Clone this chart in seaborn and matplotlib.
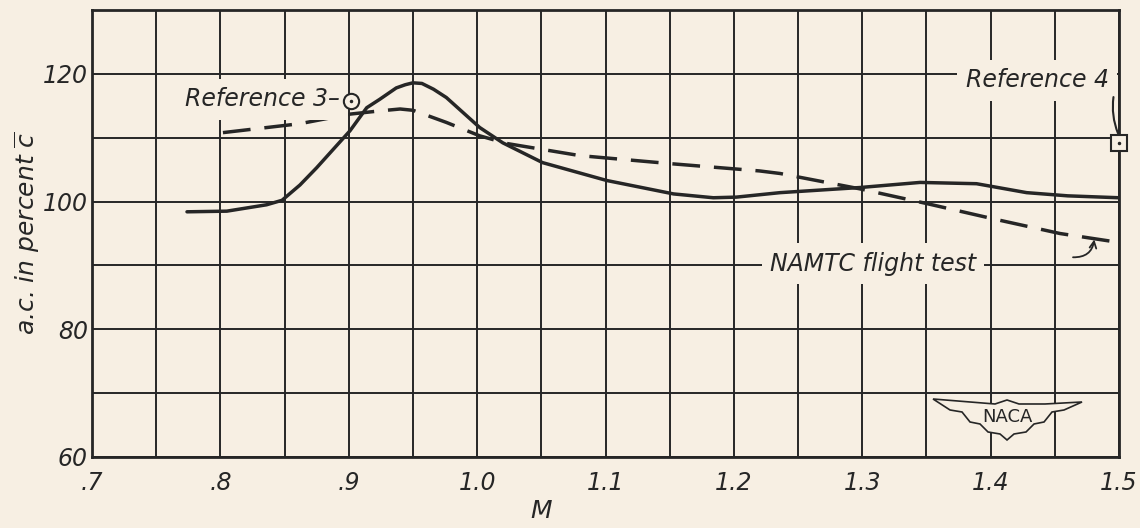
import matplotlib
matplotlib.use('Agg')
import matplotlib.pyplot as plt
import seaborn as sns
import numpy as np

# values (M vs a.c. in percent c-bar)
ref3_m = [0.774, 0.805, 0.836, 0.848, 0.862, 0.875, 0.901, 0.914, 0.924, 0.937,
          0.944, 0.950, 0.957, 0.966, 0.976, 1.002, 1.020, 1.051, 1.101, 1.153,
          1.184, 1.202, 1.236, 1.298, 1.345, 1.389, 1.428, 1.460, 1.500]
ref3_ac = [98.4, 98.5, 99.5, 100.2, 102.6, 105.3, 111.1, 114.7, 116.0, 117.8,
           118.3, 118.6, 118.5, 117.6, 116.3, 111.6, 109.2, 106.1, 103.3, 101.2,
           100.6, 100.7, 101.4, 102.2, 103.0, 102.8, 101.4, 100.9, 100.6]

flight_m = [0.802, 0.862, 0.901, 0.924, 0.940, 0.950, 0.976, 1.002, 1.023, 1.080,
            1.153, 1.220, 1.236, 1.298, 1.350, 1.402, 1.454, 1.500]
flight_ac = [110.8, 112.2, 113.7, 114.2, 114.5, 114.3, 112.4, 110.3, 109.1, 107.2,
             105.9, 104.8, 104.4, 102.0, 99.7, 97.3, 95.0, 93.6]

ref3_point = (0.902, 115.8)
ref4_point = (1.500, 109.1)

x_ticks = [0.7, 0.8, 0.9, 1.0, 1.1, 1.2, 1.3, 1.4, 1.5]
x_labels = ['.7', '.8', '.9', '1.0', '1.1', '1.2', '1.3', '1.4', '1.5']
y_ticks = [60, 80, 100, 120]
y_labels = ['60', '80', '100', '120']

paper = '#f7efe3'
ink = '#262626'

sns.set_theme(style='white')
plt.rcParams['font.family'] = ['DejaVu Sans']
plt.rcParams['mathtext.fontset'] = 'dejavusans'

fig = plt.figure(figsize=(11.4, 5.28), dpi=100, facecolor=paper)
ax = fig.add_axes([0.0807, 0.1345, 0.9009, 0.8465])
ax.set_facecolor(paper)

ax.set_xlim(0.7, 1.5)
ax.set_ylim(60, 130)
ax.set_xticks(np.arange(0.7, 1.5001, 0.05), minor=True)
ax.set_yticks(np.arange(60, 130.1, 10), minor=True)
ax.set_xticks(x_ticks)
ax.set_xticklabels(x_labels)
ax.set_yticks(y_ticks)
ax.set_yticklabels(y_labels)
ax.grid(True, which='both', color=ink, linewidth=1.4)
ax.set_axisbelow(True)
for s in ax.spines.values():
    s.set_color(ink)
    s.set_linewidth(2)
ax.tick_params(which='both', length=0, colors=ink, labelsize=17)
ax.tick_params(axis='x', pad=10)
ax.tick_params(axis='y', pad=3)
for lab in ax.get_xticklabels() + ax.get_yticklabels():
    lab.set_fontstyle('italic')

sns.lineplot(x=ref3_m, y=ref3_ac, ax=ax, color=ink, linewidth=2.5, zorder=3)
sns.lineplot(x=flight_m, y=flight_ac, ax=ax, color=ink, linewidth=2.5,
             linestyle=(0, (8, 4)), zorder=3)

ax.plot(*ref3_point, marker='o', markersize=11, markerfacecolor=paper,
        markeredgecolor=ink, markeredgewidth=1.5, zorder=5, clip_on=False)
ax.plot(*ref3_point, marker='.', markersize=3, color=ink, zorder=6, clip_on=False)
ax.plot(*ref4_point, marker='s', markersize=11, markerfacecolor=paper,
        markeredgecolor=ink, markeredgewidth=1.5, zorder=5, clip_on=False)
ax.plot(*ref4_point, marker='.', markersize=3, color=ink, zorder=6, clip_on=False)

box = dict(facecolor=paper, edgecolor='none', pad=6)
ax.text(0.893, 116.0, 'Reference 3\u2013', fontsize=17, fontstyle='italic',
        color=ink, ha='right', va='center', bbox=box, zorder=4)
ax.text(1.492, 119.0, 'Reference 4', fontsize=17, fontstyle='italic',
        color=ink, ha='right', va='center', bbox=box, zorder=4)
ax.annotate('', xy=(1.5, 110.3), xytext=(1.496, 116.8),
            arrowprops=dict(arrowstyle='-', color=ink, lw=1.5,
                            connectionstyle='arc3,rad=0.15'), zorder=5)
ax.text(1.228, 90.3, 'NAMTC flight test', fontsize=17, fontstyle='italic',
        color=ink, ha='left', va='center', bbox=box, zorder=4)
ax.annotate('', xy=(1.481, 94.5), xytext=(1.462, 91.3),
            arrowprops=dict(arrowstyle='->', color=ink, lw=1.3,
                            connectionstyle='arc3,rad=0.5'), zorder=5)

# NACA wing emblem
px = [933, 970, 995, 1007, 1019, 1045, 1082, 1064, 1052, 1044, 1034, 1026, 1014,
      1007, 1000, 988, 980, 970, 962, 950]
py = [399, 402, 404, 400, 404, 404, 402, 410, 412, 422, 424, 432, 434,
      440, 434, 432, 424, 422, 412, 410]
fx = [(p - 92) / 1027 for p in px]
fy = [(457 - p) / 447 for p in py]
ax.fill(fx, fy, transform=ax.transAxes, facecolor=paper, edgecolor=ink,
        linewidth=1.2, zorder=4)
ax.text((1007 - 92) / 1027, (457 - 417) / 447, 'NACA', transform=ax.transAxes,
        fontsize=13, color=ink, ha='center', va='center', zorder=5)

ax.set_xlabel('M', fontsize=18, fontstyle='italic', color=ink)
ax.xaxis.set_label_coords(0.437, -0.095)
ax.set_ylabel(r'a.c. in percent $\overline{\mathit{c}}$', fontsize=18,
              fontstyle='italic', color=ink)
ax.yaxis.set_label_coords(-0.063, 0.5)
ax.yaxis.label.set_verticalalignment('center')

fig.savefig('out.png', dpi=100, facecolor=paper)
